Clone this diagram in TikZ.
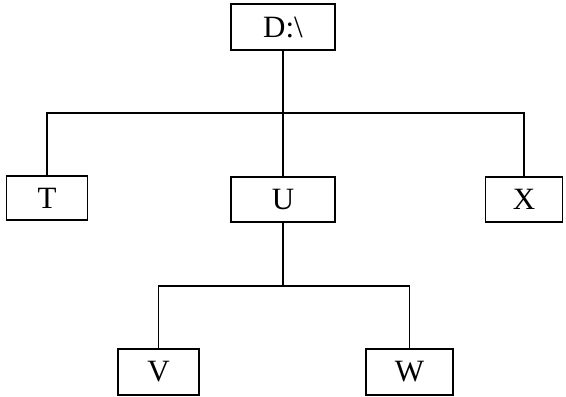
\documentclass[tikz,border=0pt]{standalone}
\usepackage{fontspec}
\setmainfont{Liberation Serif}
\begin{document}
\begin{tikzpicture}[x=1pt,y=-1pt,
  box/.style={draw,line width=1.4pt,inner sep=0pt,font=\fontsize{31}{36}\selectfont},
  conn/.style={line width=1.4pt}]
\useasboundingbox (0,0) rectangle (566,397);
\node[box,minimum width=104pt,minimum height=46pt] (D) at (283,27) {D:\textbackslash};
\node[box,minimum width=81pt,minimum height=44pt] (T) at (47,198) {T};
\node[box,minimum width=104pt,minimum height=45pt] (U) at (283,199.5) {U};
\node[box,minimum width=77pt,minimum height=45pt] (X) at (524,199.5) {X};
\node[box,minimum width=81pt,minimum height=46pt] (V) at (158.5,372) {V};
\node[box,minimum width=87pt,minimum height=46pt] (W) at (409.5,372) {W};
\coordinate (j1) at (283,113);
\coordinate (j2) at (283,286);
\draw[conn] (D) -- (j1);
\draw[conn] (T) |- (j1) -| (X);
\draw[conn] (j1) -- (U);
\draw[conn] (U) -- (j2);
\draw[conn] (V) |- (j2) -| (W);
\end{tikzpicture}
\end{document}
